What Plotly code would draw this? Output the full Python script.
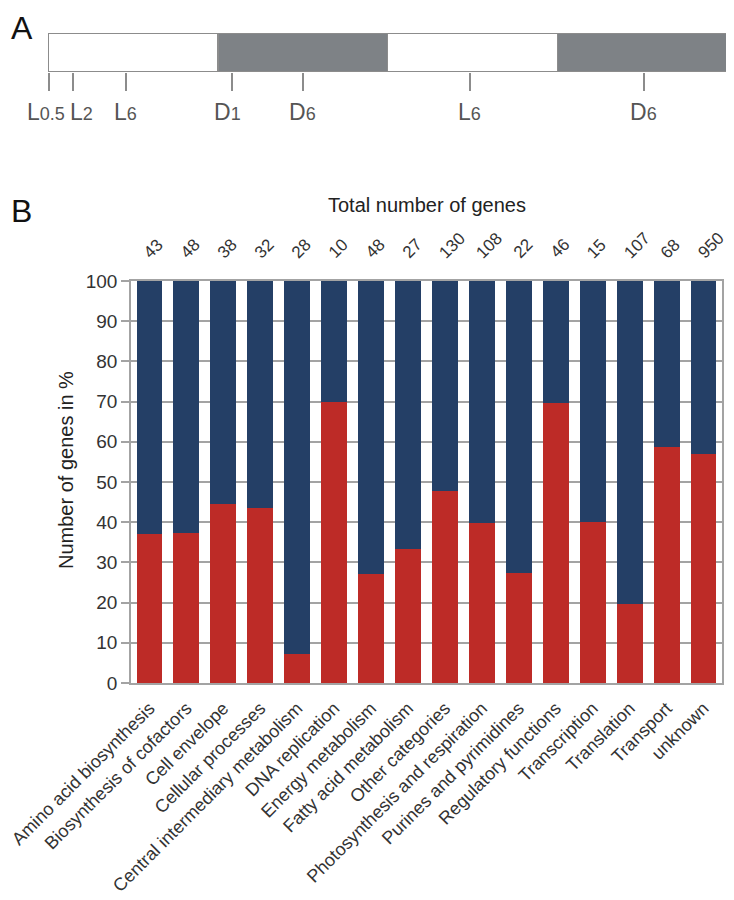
import plotly.graph_objects as go

W, H = 734, 900
OFF = 8  # page body margin offset
FONT = "Liberation Sans, Arial, sans-serif"
TXT = "#333333"
GRID = "#a3a3a3"
BLUE = "#243f66"
RED = "#bd2b27"

# ---- Panel A data: light/dark schedule (hours) ----
seg_start = [0, 12, 24, 36]
seg_len = [12, 12, 12, 12]
seg_color = ["#ffffff", "#7e8286", "#ffffff", "#7e8286"]
tick_pos = [0.1, 1.8, 5.5, 13.0, 18.0, 29.8, 42.1]
tick_main = ["L", "L", "L", "D", "D", "L", "D"]
tick_sub = ["0.5", "2", "6", "1", "6", "6", "6"]
tick_shift = [-3, 8, 0, -4, 0, 0, 0]

# ---- Panel B data ----
categories = [
    "Amino acid biosynthesis", "Biosynthesis of cofactors", "Cell envelope",
    "Cellular processes", "Central intermediary metabolism", "DNA replication",
    "Energy metabolism", "Fatty acid metabolism", "Other categories",
    "Photosynthesis and respiration", "Purines and pyrimidines",
    "Regulatory functions", "Transcription", "Translation", "Transport", "unknown",
]
totals = [43, 48, 38, 32, 28, 10, 48, 27, 130, 108, 22, 46, 15, 107, 68, 950]
red_pct = [37.0, 37.3, 44.6, 43.6, 7.1, 70.0, 27.1, 33.3, 47.7, 39.8, 27.3,
           69.7, 40.0, 19.6, 58.8, 56.9]
blue_pct = [100 - v for v in red_pct]

fig = go.Figure()

# Panel A bars
for s, l, c in zip(seg_start, seg_len, seg_color):
    fig.add_trace(go.Bar(
        x=[l], y=[0], base=[s], orientation="h", width=1,
        marker=dict(color=c, line=dict(color="#8c8c8c", width=1.5)),
        xaxis="x2", yaxis="y2", showlegend=False, hoverinfo="skip",
    ))

# Panel B stacked bars
fig.add_trace(go.Bar(x=categories, y=red_pct, marker=dict(color=RED, line=dict(width=0)),
                     showlegend=False))
fig.add_trace(go.Bar(x=categories, y=blue_pct, marker=dict(color=BLUE, line=dict(width=0)),
                     showlegend=False))

def px(x):
    return (x - OFF) / W

def py(y):
    return 1 - (y - OFF) / H

annotations = []
# Panel letters
annotations.append(dict(text="A", x=px(9), y=py(8), xref="paper", yref="paper",
                        xanchor="left", yanchor="top", showarrow=False,
                        font=dict(size=32, color="#111111", family=FONT)))
annotations.append(dict(text="B", x=px(9), y=py(211), xref="paper", yref="paper",
                        xanchor="left", yanchor="middle", showarrow=False,
                        font=dict(size=32, color="#111111", family=FONT)))
# Panel A tick labels
for p, m, s, sh in zip(tick_pos, tick_main, tick_sub, tick_shift):
    annotations.append(dict(
        text=f"{m}<span style='font-size:18px'>{s}</span>",
        x=p, xref="x2", y=py(112), yref="paper", xshift=sh,
        xanchor="center", yanchor="middle", showarrow=False,
        font=dict(size=23, color="#555555", family=FONT)))
# Total number of genes title
annotations.append(dict(text="Total number of genes", x=px(427), y=py(205),
                        xref="paper", yref="paper", xanchor="center", yanchor="middle",
                        showarrow=False, font=dict(size=20, color="#222222", family=FONT)))
# count labels
for c, t in zip(categories, totals):
    annotations.append(dict(text=str(t), x=c, xref="x", y=py(265), yref="paper",
                            xshift=-12, xanchor="left", yanchor="bottom", textangle=-45,
                            showarrow=False, font=dict(size=17, color=TXT, family=FONT)))
# y title
annotations.append(dict(text="Number of genes in %", x=px(66), y=py(470),
                        xref="paper", yref="paper", xanchor="center", yanchor="middle",
                        textangle=-90, showarrow=False,
                        font=dict(size=20, color="#222222", family=FONT)))

fig.update_layout(
    width=W, height=H,
    margin=dict(l=0, r=0, t=0, b=0, autoexpand=False),
    paper_bgcolor="white", plot_bgcolor="white",
    barmode="stack", bargap=0.3,
    font=dict(family=FONT, color=TXT),
    annotations=annotations,
    xaxis=dict(
        domain=[px(131), px(722)], range=[-0.5, 15.5], automargin=False,
        showline=True, linecolor=GRID, linewidth=1.5, mirror=True,
        showgrid=False, ticks="", tickangle=-45, ticklabelstandoff=6,
        tickfont=dict(size=18, color=TXT, family=FONT),
        anchor="y",
    ),
    yaxis=dict(
        domain=[py(683), py(281)], range=[0, 100], dtick=10, automargin=False,
        showline=True, linecolor=GRID, linewidth=1.5, mirror=True,
        showgrid=True, gridcolor=GRID, gridwidth=1.5, zeroline=False,
        ticks="outside", ticklen=8, tickcolor=GRID, tickwidth=1.5,
        tickfont=dict(size=19, color=TXT, family=FONT),
        anchor="x",
    ),
    xaxis2=dict(
        domain=[px(48), px(727)], range=[0, 48], automargin=False,
        showline=False, showgrid=False, zeroline=False,
        tickvals=tick_pos, ticks="outside", ticklen=18, tickwidth=1.5,
        tickcolor="#8c8c8c", showticklabels=False, anchor="y2",
    ),
    yaxis2=dict(
        domain=[py(72), py(33)], range=[-0.5, 0.5], automargin=False,
        visible=False, anchor="x2",
    ),
)

fig.write_html("out.html")
